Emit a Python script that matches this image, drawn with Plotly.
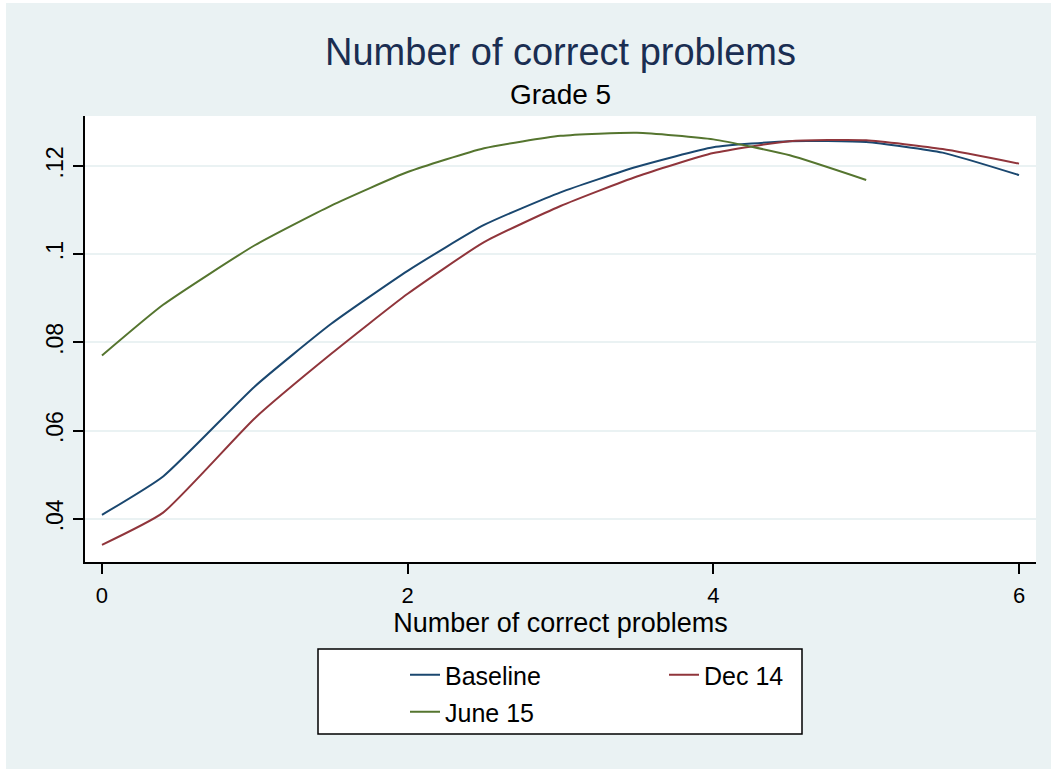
import plotly.graph_objects as go

# values (x = number of correct problems)
x_base = [0, 0.4, 1.0, 1.5, 2.0, 2.5, 3.0, 3.5, 4.0, 4.5, 5.0, 5.5, 6.0]
baseline = [0.0409, 0.0496, 0.0700, 0.0842, 0.0962, 0.1066, 0.1140, 0.1198,
            0.1242, 0.1256, 0.1254, 0.1230, 0.1179]

x_dec = [0, 0.4, 1.0, 1.5, 2.0, 2.5, 3.0, 3.5, 4.0, 4.5, 5.0, 5.5, 6.0]
dec14 = [0.0341, 0.0414, 0.0628, 0.0774, 0.0910, 0.1027, 0.1109, 0.1176,
         0.1229, 0.1256, 0.1258, 0.1238, 0.1205]

x_june = [0, 0.4, 1.0, 1.5, 2.0, 2.5, 3.0, 3.5, 4.0, 4.5, 5.0]
june15 = [0.0770, 0.0885, 0.1020, 0.1110, 0.1186, 0.1240, 0.1268, 0.1275,
          0.1260, 0.1224, 0.1168]

x_ticks = [0, 2, 4, 6]
y_ticks = [0.04, 0.06, 0.08, 0.10, 0.12]
y_labels = [".04", ".06", ".08", ".1", ".12"]

BG = "#eaf2f3"
FONT = "Liberation Sans, Arial, sans-serif"

fig = go.Figure()
fig.add_trace(go.Scatter(x=x_base, y=baseline, mode="lines", name="Baseline",
                         line=dict(color="#1a476f", width=2, shape="spline",
                                   smoothing=0.5), legend="legend"))
fig.add_trace(go.Scatter(x=x_dec, y=dec14, mode="lines", name="Dec 14",
                         line=dict(color="#90353b", width=2, shape="spline",
                                   smoothing=0.5), legend="legend"))
fig.add_trace(go.Scatter(x=x_june, y=june15, mode="lines", name="June 15",
                         line=dict(color="#55752f", width=2, shape="spline",
                                   smoothing=0.5), legend="legend2"))

legend_style = dict(
    orientation="h", xanchor="left", yanchor="middle",
    bgcolor="rgba(0,0,0,0)", borderwidth=0,
    font=dict(family=FONT, size=25, color="black"),
    entrywidth=214, entrywidthmode="pixels", itemclick=False,
)

fig.update_layout(
    width=1051, height=769,
    paper_bgcolor=BG, plot_bgcolor="white",
    margin=dict(l=85, r=15, t=116, b=207),
    font=dict(family=FONT, color="black"),
    title=dict(text="Number of correct problems", x=0.5, xref="paper",
               y=1 - 52 / 769, yref="container", yanchor="middle",
               font=dict(size=38, color="#1a2e52", family=FONT)),
    annotations=[dict(text="Grade 5", x=0.5, xref="paper",
                      y=(562 - 94) / 446, yref="paper", yanchor="middle",
                      showarrow=False, font=dict(size=28, color="black"))],
    xaxis=dict(range=[-0.111, 6.111], tickvals=x_ticks, showgrid=False,
               zeroline=False, showline=True, linecolor="black", linewidth=1.5,
               ticks="outside", ticklen=10, tickwidth=1.5, tickcolor="black",
               ticklabelstandoff=3,
               tickfont=dict(size=22, color="black"),
               title=dict(text="Number of correct problems", standoff=4,
                          font=dict(size=27, color="black"))),
    yaxis=dict(range=[0.0302, 0.1313], tickvals=y_ticks, ticktext=y_labels,
               showgrid=True, gridcolor=BG, gridwidth=2, zeroline=False,
               showline=True, linecolor="black", linewidth=1.5,
               ticks="outside", ticklen=10, tickwidth=1.5, tickcolor="black",
               ticklabelstandoff=1,
               tickangle=-90, tickfont=dict(size=23, color="black")),
    legend=dict(x=(405 - 85) / 951, y=(562 - 675) / 446, **legend_style),
    legend2=dict(x=(405 - 85) / 951, y=(562 - 712) / 446, **legend_style),
    shapes=[
        # legend frame
        dict(type="rect", xref="paper", yref="paper",
             x0=(318 - 85) / 951, x1=(802 - 85) / 951,
             y0=(562 - 734) / 446, y1=(562 - 649) / 446,
             line=dict(color="black", width=1.5), fillcolor="white",
             layer="below"),
        # thin white edges of the exported image
        dict(type="rect", xref="paper", yref="paper",
             x0=-85 / 951, x1=-79 / 951, y0=-207 / 446, y1=(562) / 446,
             line=dict(width=0), fillcolor="white", layer="below"),
        dict(type="rect", xref="paper", yref="paper",
             x0=-85 / 951, x1=966 / 951, y0=559 / 446, y1=562 / 446,
             line=dict(width=0), fillcolor="white", layer="below"),
    ],
)

fig.write_html("out.html", config={"displayModeBar": False},
               post_script="document.body.style.margin='0';"
                           "document.body.style.overflow='hidden';")
